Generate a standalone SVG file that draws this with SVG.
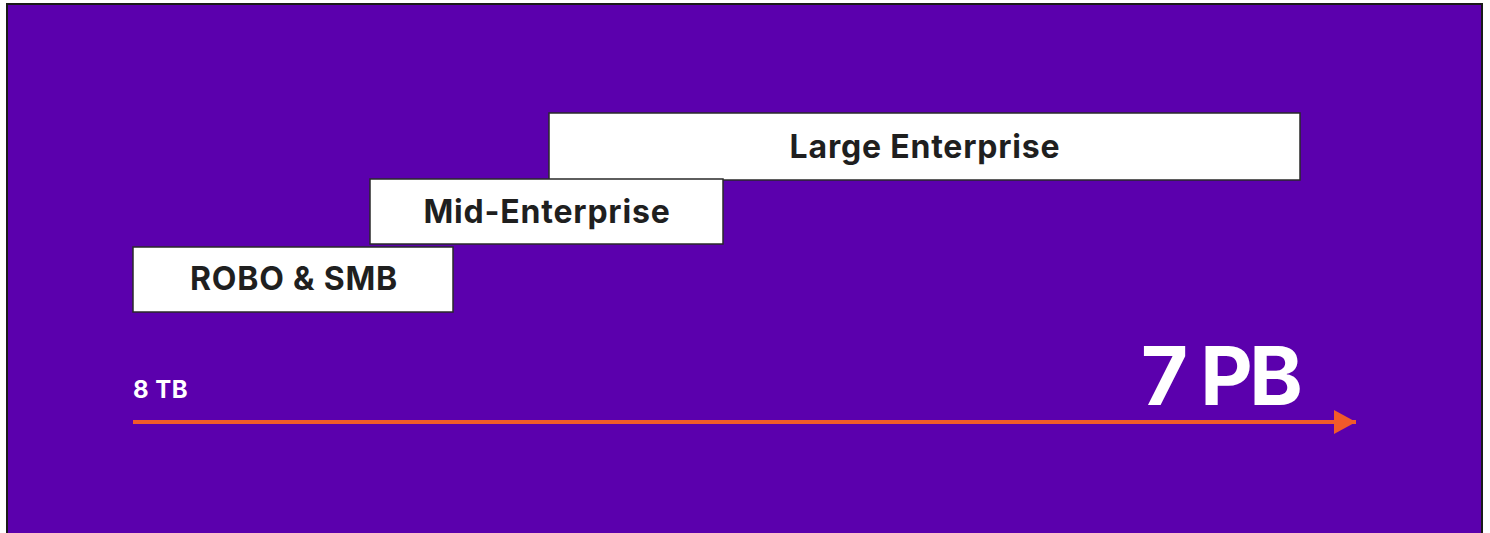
<svg xmlns="http://www.w3.org/2000/svg" width="1490" height="533" viewBox="0 0 1490 533">
<style>
.box{fill:#ffffff;stroke:#2a2a2a;stroke-width:1.5}
.lbl{font-family:Inter,"Liberation Sans",sans-serif;font-weight:700;fill:#1f1f1f;font-size:32px;letter-spacing:0.8px;text-anchor:middle}
.axis{font-family:Inter,"Liberation Sans",sans-serif;font-weight:700;fill:#ffffff}
</style>
<defs>
<marker id="ah" markerUnits="userSpaceOnUse" markerWidth="24" markerHeight="26" refX="22" refY="12" orient="auto">
<path d="M0,0 L22,12 L0,24 Z" fill="#F25A2A"/>
</marker>
</defs>
<rect x="0" y="0" width="1490" height="533" fill="#ffffff"/>
<rect x="7" y="4" width="1475" height="535" fill="#5B00AD" stroke="#1a1a1a" stroke-width="2"/>
<g id="connectors">
<line x1="133" y1="422" x2="1356" y2="422" stroke="#F25A2A" stroke-width="4" marker-end="url(#ah)"/>
</g>
<g id="large">
<rect class="box" x="549" y="113" width="751" height="67"/>
<text class="lbl" x="925" y="158">Large Enterprise</text>
</g>
<g id="mid">
<rect class="box" x="370" y="179" width="353" height="65"/>
<text class="lbl" x="547" y="223">Mid-Enterprise</text>
</g>
<g id="robo">
<rect class="box" x="133" y="247" width="320" height="65"/>
<text class="lbl" x="294" y="290">ROBO &amp; SMB</text>
</g>
<g id="min">
<text class="axis" x="133" y="398" font-size="24" letter-spacing="0.5">8 TB</text>
</g>
<g id="max">
<text class="axis" x="1141" y="405" font-size="81" letter-spacing="-3.5">7 PB</text>
</g>
</svg>
